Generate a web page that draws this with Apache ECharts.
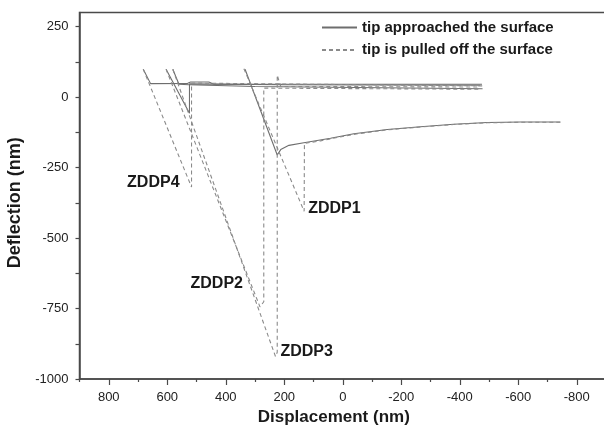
<!DOCTYPE html>
<html>
<head>
<meta charset="utf-8">
<script src="https://cdn.jsdelivr.net/npm/echarts@6/dist/echarts.min.js"></script>
<style>
  html, body { margin: 0; padding: 0; background: #fff; }
  #chart { width: 604px; height: 425px; }
</style>
</head>
<body>
<div id="chart"></div>
<script>
// AFM force curves: cantilever deflection vs. piezo displacement (nm)
const sampleNames = ['ZDDP1', 'ZDDP2', 'ZDDP3', 'ZDDP4'];

// approach curves (solid), [displacement, deflection]
const approachZDDP1 = [[-744,-88],[-608,-88],[-494,-90],[-379,-96],[-266,-105],[-152,-115],[-38,-130],[42,-146],[133,-162],[184,-171],[212,-186],[224,-205],[334,99]];
const approachZDDP2 = [[-470,42],[200,44],[524,47],[524,-57],[604,99]];
const approachZDDP3 = [[-478,30],[300,38],[526,44],[560,46],[581,99]];
const approachZDDP4 = [[-476,46],[440,46],[458,54],[520,54],[530,49],[657,48],[682,99]];

// retraction curves (dashed)
const retractZDDP1 = [[338,101],[132,-405],[131,-164],[76,-155],[42,-148],[-38,-132],[-152,-116],[-266,-106],[-379,-97],[-494,-91],[-608,-89],[-744,-89]];
const retractZDDP2 = [[604,99],[283,-744],[270,-726],[270,32],[-470,28]];
const retractZDDP3 = [[581,99],[230,-920],[224,-905],[224,78],[212,38],[-462,36]];
const retractZDDP4 = [[682,99],[517,-319],[517,50],[-478,40]];

// axis ticks
const xTicks = [800, 600, 400, 200, 0, -200, -400, -600, -800];
const xMinorTicks = [900, 700, 500, 300, 100, -100, -300, -500, -700, -900];
const yTicks = [250, 0, -250, -500, -750, -1000];
const yMinorTicks = [125, -125, -375, -625, -875];

const legendApproach = 'tip approached the surface';
const legendRetract = 'tip is pulled off the surface';

const FONT = '"Liberation Sans", Arial, sans-serif';
const TEXT_COLOR = '#1a1a1a';

const approachSets = [approachZDDP1, approachZDDP2, approachZDDP3, approachZDDP4];
const retractSets = [retractZDDP1, retractZDDP2, retractZDDP3, retractZDDP4];

// where each sample name sits relative to the deepest point of its retraction curve
const labelPlacement = [
  { position: 'right', distance: 4, offset: [0, -3] },
  { position: 'left', distance: 17, offset: [0, -23] },
  { position: 'right', distance: 5, offset: [0, -5] },
  { position: 'left', distance: 12, offset: [0, -4] }
];

const series = [];
approachSets.forEach(function (pts) {
  series.push({
    type: 'line', name: legendApproach, data: pts,
    symbol: 'none', silent: true, animation: false,
    lineStyle: { color: '#6e6e6e', width: 1.1, type: 'solid' },
    itemStyle: { color: '#6e6e6e' }
  });
});
retractSets.forEach(function (pts) {
  series.push({
    type: 'line', name: legendRetract, data: pts,
    symbol: 'none', silent: true, animation: false,
    lineStyle: { color: '#8a8a8a', width: 1.1, type: [4, 3] },
    itemStyle: { color: '#8a8a8a' }
  });
});

// sample names, anchored at the deepest point of each retraction curve
const labelData = retractSets.map(function (pts, i) {
  let minIdx = 0;
  pts.forEach(function (p, k) { if (p[1] < pts[minIdx][1]) minIdx = k; });
  const lp = labelPlacement[i];
  return {
    value: pts[minIdx],
    label: {
      show: true, formatter: sampleNames[i],
      position: lp.position, distance: lp.distance, offset: lp.offset,
      fontFamily: FONT, fontSize: 16, fontWeight: 'bold', color: TEXT_COLOR, opacity: 1
    }
  };
});
series.push({
  type: 'scatter', name: 'samples', data: labelData,
  symbol: 'circle', symbolSize: 0, silent: true, animation: false,
  itemStyle: { color: TEXT_COLOR, opacity: 1 },
  label: { fontFamily: FONT, fontSize: 16, fontWeight: 'bold', color: TEXT_COLOR },
  z: 5
});

const axisColor = '#4a4a4a';
const numFmt = function (v) { return String(v); };
const chart = echarts.init(document.getElementById('chart'), null, { renderer: 'canvas' });
chart.setOption({
  animation: false,
  backgroundColor: '#ffffff',
  grid: {
    left: 79.5, top: 12.6, width: 526.5, height: 366.4,
    outerBoundsMode: 'none', containLabel: false,
    show: true, borderColor: axisColor, borderWidth: 1.5, backgroundColor: 'transparent'
  },
  legend: {
    data: [legendApproach, legendRetract],
    orient: 'vertical', left: 321, top: 20, padding: 0,
    itemWidth: 35, itemHeight: 14, itemGap: 7.6,
    selectedMode: false,
    itemStyle: { opacity: 0 },
    textStyle: { fontFamily: FONT, fontSize: 15, fontWeight: 'bold', color: TEXT_COLOR }
  },
  xAxis: [{
    type: 'value', min: -900, max: 900, inverse: true, position: 'bottom',
    name: 'Displacement (nm)', nameLocation: 'middle', nameGap: 29,
    nameTextStyle: { fontFamily: FONT, fontSize: 17, fontWeight: 'bold', color: TEXT_COLOR, padding: [0, 18, 0, 0] },
    axisLine: { show: true, onZero: false, lineStyle: { color: axisColor, width: 1.5 } },
    axisTick: { show: true, inside: false, length: 6, customValues: xTicks, lineStyle: { color: axisColor, width: 1.2 } },
    axisLabel: { customValues: xTicks, formatter: numFmt, margin: 12, fontFamily: FONT, fontSize: 13, color: '#222' },
    splitLine: { show: false }
  }, {
    type: 'value', min: -900, max: 900, inverse: true, position: 'bottom',
    axisLine: { show: false, onZero: false },
    axisTick: { show: true, inside: false, length: 3, customValues: xMinorTicks, lineStyle: { color: axisColor, width: 1.2 } },
    axisLabel: { show: false },
    splitLine: { show: false }
  }],
  yAxis: {
    type: 'value', min: -1000, max: 300,
    name: 'Deflection (nm)', nameLocation: 'middle', nameGap: 51,
    nameTextStyle: { fontFamily: FONT, fontSize: 18, fontWeight: 'bold', color: TEXT_COLOR, padding: [0, 14, 0, 0] },
    axisLine: { show: true, onZero: false, lineStyle: { color: axisColor, width: 1.5 } },
    axisTick: { show: true, inside: false, length: 4, customValues: yTicks.concat(yMinorTicks), lineStyle: { color: axisColor, width: 1.2 } },
    axisLabel: { customValues: yTicks, formatter: numFmt, margin: 11, fontFamily: FONT, fontSize: 13, color: '#222' },
    splitLine: { show: false }
  },
  series: series
});
</script>
</body>
</html>
